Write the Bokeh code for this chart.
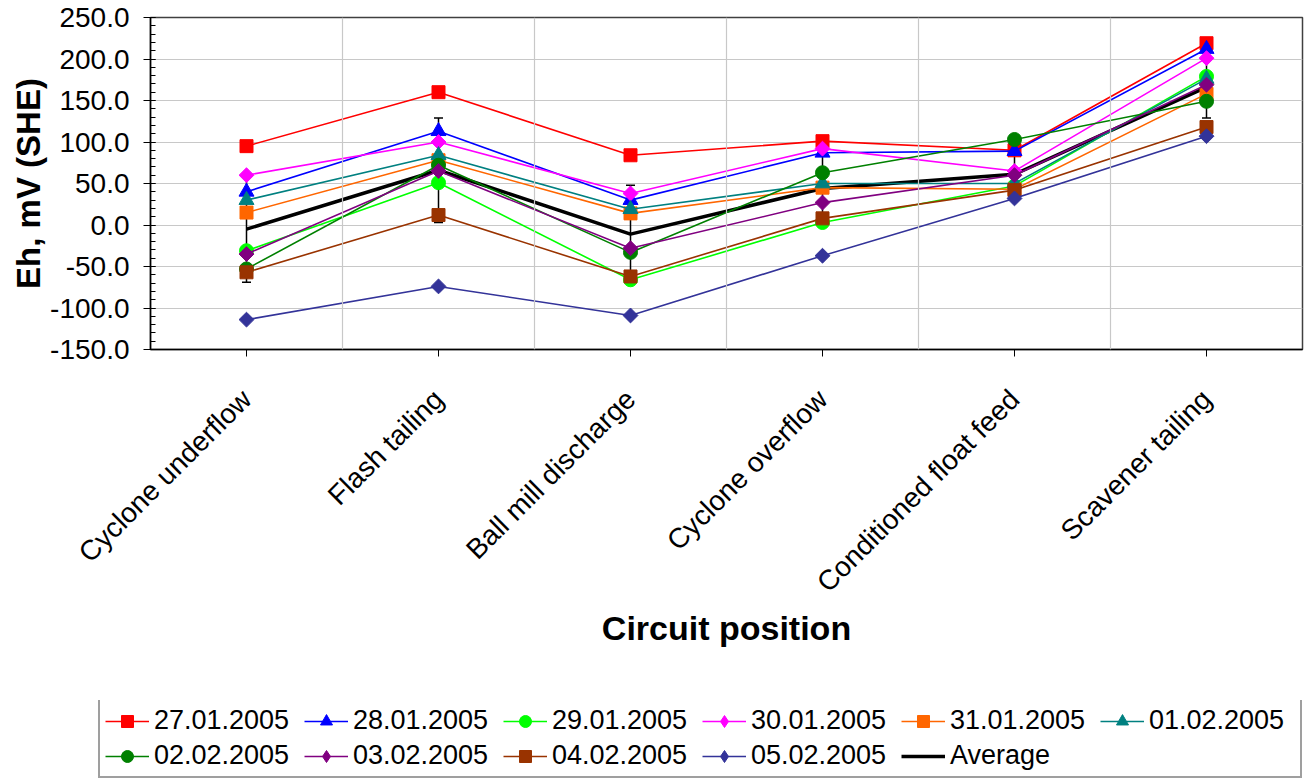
import math
from bokeh.plotting import figure
from bokeh.layouts import column
from bokeh.models import (FactorRange, Range1d, Span, Legend, LegendItem,
                          SingleIntervalTicker, NumeralTickFormatter, ColumnDataSource)
from bokeh.embed import file_html
from bokeh.resources import INLINE

categories = ["Cyclone underflow", "Flash tailing", "Ball mill discharge",
              "Cyclone overflow", "Conditioned float feed", "Scavener tailing"]

s_27_01 = [95, 160, 84, 101, 90, 219]
s_28_01 = [40, 113, 30, 87, 89, 212]
s_29_01 = [-31, 51, -66, 3, 47, 179]
s_30_01 = [60, 100, 38, 92, 65, 201]
s_31_01 = [15, 78, 14, 45, 43, 158]
s_01_02 = [30, 84, 19, 50, 50, 176]
s_02_02 = [-53, 72, -33, 63, 103, 149]
s_03_02 = [-35, 65, -28, 27, 60, 169]
s_04_02 = [-57, 12, -62, 8, 42, 118]
s_05_02 = [-114, -74, -109, -37, 32, 107]
average = [-5, 66, -11, 44, 61, 166]
std_dev = [64, 63, 59, 44, 24, 37]

series = [
    ("27.01.2005", s_27_01, "#FF0000", "square"),
    ("28.01.2005", s_28_01, "#0000FF", "triangle"),
    ("29.01.2005", s_29_01, "#00FF00", "circle"),
    ("30.01.2005", s_30_01, "#FF00FF", "diamond"),
    ("31.01.2005", s_31_01, "#FF6600", "square"),
    ("01.02.2005", s_01_02, "#008080", "triangle"),
    ("02.02.2005", s_02_02, "#008000", "circle"),
    ("03.02.2005", s_03_02, "#800080", "diamond"),
    ("04.02.2005", s_04_02, "#993300", "square"),
    ("05.02.2005", s_05_02, "#333399", "diamond"),
]

FONT = "Liberation Sans"


def add_series(fig, src, color, marker, legend_glyph=False):
    r_line = fig.line(x="x", y="y", source=src, line_color=color, line_width=1.6)
    if marker == "diamond":
        if legend_glyph:
            r_mk = fig.scatter(x="x", y="y", source=src, marker="diamond", size=16,
                               fill_color=color, line_color=color)
        else:
            r_mk = fig.scatter(x="x", y="y", source=src, marker="square", angle=math.pi / 4,
                               size=10.5, fill_color=color, line_color=color)
    elif marker == "square":
        r_mk = fig.scatter(x="x", y="y", source=src, marker="square", size=13,
                           fill_color=color, line_color=color)
    elif marker == "triangle":
        r_mk = fig.scatter(x="x", y="y", source=src, marker="triangle", size=15,
                           fill_color=color, line_color=color)
    else:
        r_mk = fig.scatter(x="x", y="y", source=src, marker="circle", size=14,
                           fill_color=color, line_color=color)
    return r_line, r_mk


# ---------------- main chart ----------------
p = figure(width=1304, height=700, x_range=FactorRange(*categories),
           y_range=Range1d(-150, 250), output_backend="svg", toolbar_location=None,
           min_border_left=150, min_border_right=2, min_border_top=17, min_border_bottom=351)
p.background_fill_color = "white"
p.border_fill_color = "white"
p.outline_line_color = "#404040"
p.outline_line_width = 1.5

p.xgrid.grid_line_color = None
p.ygrid.grid_line_color = "#C8C8C8"
p.ygrid.grid_line_width = 1.2
for k in range(1, len(categories)):
    p.add_layout(Span(location=k, dimension="height", line_color="#C8C8C8", line_width=1.2))

p.yaxis.ticker = SingleIntervalTicker(interval=50, num_minor_ticks=5)
p.yaxis.formatter = NumeralTickFormatter(format="0.0")
p.yaxis.axis_label = "Eh, mV (SHE)"
p.yaxis.axis_label_text_font = FONT
p.yaxis.axis_label_text_font_style = "bold"
p.yaxis.axis_label_text_font_size = "33px"
p.yaxis.axis_label_text_color = "black"
p.yaxis.axis_label_standoff = 0
p.yaxis.major_label_text_font = FONT
p.yaxis.major_label_text_font_size = "28px"
p.yaxis.major_label_text_color = "black"
p.yaxis.major_label_standoff = 14
p.yaxis.major_tick_in = 5
p.yaxis.major_tick_out = 7
p.yaxis.minor_tick_in = 5
p.yaxis.minor_tick_out = 0
p.yaxis.axis_line_color = "black"
p.yaxis.axis_line_width = 1.5

p.xaxis.axis_label = "Circuit position"
p.xaxis.axis_label_text_font = FONT
p.xaxis.axis_label_text_font_style = "bold"
p.xaxis.axis_label_text_font_size = "34px"
p.xaxis.axis_label_text_color = "black"
p.xaxis.axis_label_standoff = -3
p.xaxis.major_label_text_font = FONT
p.xaxis.major_label_text_font_size = "28px"
p.xaxis.major_label_text_color = "black"
p.xaxis.major_label_orientation = math.pi / 4
p.xaxis.major_label_standoff = 38
p.xaxis.major_tick_in = 0
p.xaxis.major_tick_out = 7
p.xaxis.axis_line_color = "black"
p.xaxis.axis_line_width = 1.5

avg_src = ColumnDataSource(dict(
    x=categories, y=average,
    lo=[a - s for a, s in zip(average, std_dev)],
    hi=[a + s for a, s in zip(average, std_dev)],
))
p.segment(x0="x", x1="x", y0="lo", y1="hi", source=avg_src, line_color="black", line_width=1.5)
p.scatter(x="x", y="lo", source=avg_src, marker="dash", size=9, line_color="black", line_width=1.5)
p.scatter(x="x", y="hi", source=avg_src, marker="dash", size=9, line_color="black", line_width=1.5)
p.line(x="x", y="y", source=avg_src, line_color="black", line_width=3.5)

sources = []
for name, vals, color, marker in series:
    src = ColumnDataSource(dict(x=categories, y=vals))
    sources.append(src)
    add_series(p, src, color, marker)

# ---------------- legend strip (own small figure; its data lies outside its range) ----
lg = figure(width=1304, height=79, x_range=FactorRange(*categories), y_range=Range1d(1000, 1001),
            output_backend="svg", toolbar_location=None,
            x_axis_location=None, y_axis_location=None,
            min_border_left=0, min_border_right=0, min_border_top=0, min_border_bottom=0)
lg.frame_align = False
lg.grid.visible = False
lg.outline_line_color = None
lg.background_fill_color = "white"
lg.border_fill_color = "white"

items = []
for (name, vals, color, marker), src in zip(series, sources):
    r_line, r_mk = add_series(lg, src, color, marker, legend_glyph=True)
    items.append(LegendItem(label=name, renderers=[r_line, r_mk]))
r_avg = lg.line(x="x", y="y", source=avg_src, line_color="black", line_width=3.5)
items.append(LegendItem(label="Average", renderers=[r_avg]))

legend = Legend(items=items, orientation="horizontal", ncols=6,
                location=(98, 1), margin=0, padding=5, spacing=4,
                label_text_font=FONT, label_text_font_size="27px", label_text_color="black",
                label_standoff=5, label_width=146, glyph_width=44, glyph_height=30,
                label_height=30,
                border_line_color="#404040", border_line_width=2,
                background_fill_color="white", background_fill_alpha=1.0)
lg.add_layout(legend, "center")

layout = column(p, lg, spacing=0)
open("out.html", "w").write(file_html(layout, INLINE))
